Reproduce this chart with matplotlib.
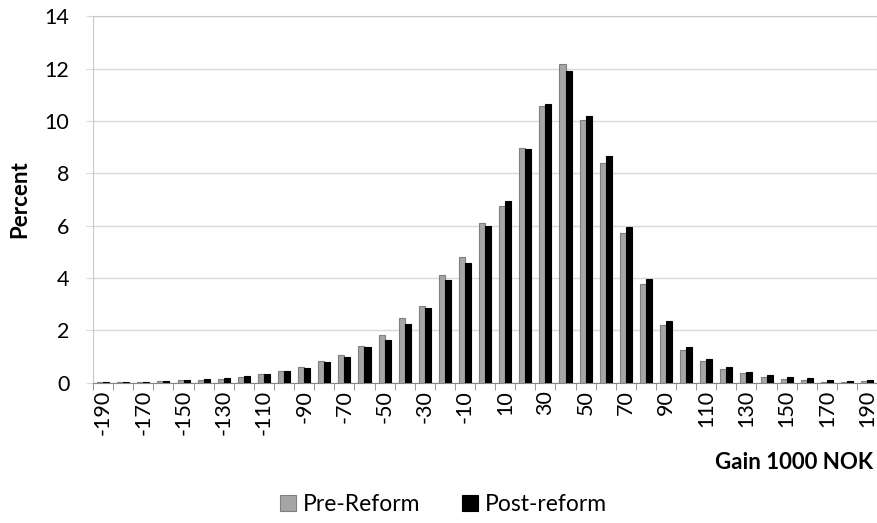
import numpy as np
import matplotlib.pyplot as plt

plt.rcParams['font.family'] = ['Lato', 'DejaVu Sans']

# categorias de ganancia (1000 NOK)
gain = list(range(-190, 200, 10))
pre_reform = [0.05, 0.03, 0.05, 0.07, 0.10, 0.12, 0.14, 0.23, 0.34, 0.46,
              0.62, 0.83, 1.06, 1.42, 1.81, 2.48, 2.93, 4.11, 4.80, 6.09,
              6.74, 8.98, 10.56, 12.19, 10.05, 8.41, 5.71, 3.78, 2.19, 1.24,
              0.83, 0.53, 0.36, 0.21, 0.13, 0.09, 0.05, 0.04, 0.06]
post_reform = [0.03, 0.03, 0.04, 0.07, 0.10, 0.14, 0.19, 0.26, 0.34, 0.45,
               0.58, 0.79, 0.97, 1.35, 1.62, 2.23, 2.84, 3.92, 4.57, 5.97,
               6.93, 8.92, 10.64, 11.90, 10.20, 8.66, 5.94, 3.97, 2.37, 1.38,
               0.90, 0.59, 0.43, 0.30, 0.21, 0.17, 0.09, 0.06, 0.10]
tick_labels = [str(g) for g in gain[::2]]

x = np.arange(len(gain))
w = 0.3

fig = plt.figure(figsize=(8.78, 5.23), dpi=100)
ax = fig.add_axes([0.106, 0.268, 0.893, 0.701])

ax.bar(x - w / 2, pre_reform, w, color='#A6A6A6', edgecolor='#7F7F7F',
       linewidth=0.8, label='Pre-Reform', zorder=3)
ax.bar(x + w / 2, post_reform, w, color='black', edgecolor='black',
       linewidth=0.8, label='Post-reform', zorder=3)

ax.set_ylim(0, 14)
ax.set_yticks(range(0, 15, 2))
ax.set_xlim(-0.5, len(gain) - 0.5)
ax.grid(axis='y', color='#D9D9D9', linewidth=1, zorder=0)

ax.set_xticks(x[::2])
ax.set_xticklabels(tick_labels, rotation=90)
ax.set_xticks(np.arange(len(gain) + 1) - 0.5, minor=True)
ax.tick_params(axis='x', which='major', length=0, labelsize=15.5, pad=5)
ax.tick_params(axis='x', which='minor', length=5, color='#868686')
ax.tick_params(axis='y', length=5, color='#D9D9D9', labelsize=15.5, pad=12)

for s in ['top', 'right', 'left']:
    ax.spines[s].set_color('#C8C8C8')
ax.spines['bottom'].set_color('#868686')

ax.set_ylabel('Percent', fontsize=16, fontweight='bold')
ax.yaxis.set_label_coords(-0.080, 0.5)
fig.text(0.995, 0.115, 'Gain 1000 NOK', ha='right', va='center',
         fontsize=16, fontweight='bold')

fig.legend(loc='center', bbox_to_anchor=(0.505, 0.035), ncol=2, frameon=False,
           fontsize=16.5, handlelength=0.7, handleheight=0.7, handletextpad=0.3,
           columnspacing=1.8)

plt.savefig('out.png', dpi=100)
